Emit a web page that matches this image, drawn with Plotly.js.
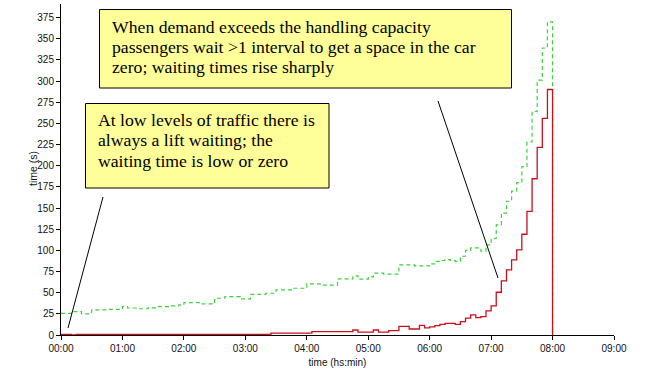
<!DOCTYPE html>
<html>
<head>
<meta charset="utf-8">
<script src="https://cdn.plot.ly/plotly-3.0.1.min.js"></script>
<style>
html,body{margin:0;padding:0;background:#fff;}
#chart{width:662px;height:381px;}
</style>
</head>
<body>
<div id="chart"></div>
<script>
// ---- data (5-minute intervals, start of interval) ----
var times = [
"00:00","00:05","00:10","00:15","00:20","00:25","00:30","00:35","00:40","00:45","00:50","00:55",
"01:00","01:05","01:10","01:15","01:20","01:25","01:30","01:35","01:40","01:45","01:50","01:55",
"02:00","02:05","02:10","02:15","02:20","02:25","02:30","02:35","02:40","02:45","02:50","02:55",
"03:00","03:05","03:10","03:15","03:20","03:25","03:30","03:35","03:40","03:45","03:50","03:55",
"04:00","04:05","04:10","04:15","04:20","04:25","04:30","04:35","04:40","04:45","04:50","04:55",
"05:00","05:05","05:10","05:15","05:20","05:25","05:30","05:35","05:40","05:45","05:50","05:55",
"06:00","06:05","06:10","06:15","06:20","06:25","06:30","06:35","06:40","06:45","06:50","06:55",
"07:00","07:05","07:10","07:15","07:20","07:25","07:30","07:35","07:40","07:45","07:50","07:55",
"08:00"];

var greenWait = [
25.6,25.6,27.5,27.5,25,25,29.6,29.6,29.6,30.2,30.2,30.2,
33.5,31.9,31.9,31,31,32,32,33.5,33.5,34.3,34.3,35.5,
38.2,38.2,38.2,36.7,36.7,36.7,43.4,43.4,45.3,45.3,45.3,42.6,
42.6,48.1,48.1,48.1,49.3,49.3,53.3,53.3,53.3,55.2,55.2,55.2,
60.4,60.4,60.4,59,59,59,66.3,66.3,66.3,69.8,65.9,65.9,
68.6,73,73,72,72,72,82.8,82.8,82.8,81.6,81.6,81.6,
84,87,88,89,88,87,93,100,103,103,99,106.5,
114,130,144,158,170,180,199,228,264,301,339,370,
0];

var redWait = [
0.8,0.8,0,0.8,0.8,0.8,0.8,0.8,0.8,0.8,0.8,0.8,
0.8,0.8,0.8,0.8,0.8,0.8,0.8,0.8,0.8,0.8,0.8,0.8,
0.8,0.8,0.8,0.8,0.8,0.8,0.8,0.8,0.8,0.8,0.8,0.8,
0.8,0.8,0.8,0.8,0.8,2.2,2.2,2.2,2.2,2.2,2.2,2.2,
2.2,3.9,3.9,3.9,3.9,3.9,3.9,3.9,3.9,5.9,3.5,3.5,
3.5,5.9,3.5,3.5,5.1,5.1,10.3,10.3,7.1,7.1,11.4,8.3,
9.5,11,12.5,13.8,13.8,12.5,15.8,20,23.7,20.5,21.7,28.4,
34.3,50.5,64,77,88.8,100.6,119,146,184.6,221.7,256,290,
0];

var tickLabels = ["00:00","01:00","02:00","03:00","04:00","05:00","06:00","07:00","08:00","09:00"];
var yTicks = [0,25,50,75,100,125,150,175,200,225,250,275,300,325,350,375];

var box1Lines = ["When demand exceeds the handling capacity",
                 "passengers wait &gt;1 interval to get a space in the car",
                 "zero; waiting times rise sharply"];
var box2Lines = ["At low levels of traffic there is",
                 "always a lift waiting; the",
                 "waiting time is low or zero"];

function toMin(s){var p=s.split(":");return (+p[0])*60+(+p[1]);}
var xs = times.map(toMin);
var tickVals = tickLabels.map(toMin);

// ---- pixel helpers for decoration placement ----
var W=662,H=381,M={l:61,r:48,t:4,b:46};
var pw=W-M.l-M.r, ph=H-M.t-M.b;
function px(x){return (x-M.l)/pw;}
function py(y){return (H-M.b-y)/ph;}

var traces = [
 {x:xs,y:greenWait,type:'scatter',mode:'lines',line:{shape:'hv',color:'#3fd03f',width:1.2,dash:'4px,3px'},hoverinfo:'skip'},
 {x:xs,y:redWait,type:'scatter',mode:'lines',line:{shape:'hv',color:'#c8101e',width:1.3},hoverinfo:'skip'}
];

var serif='"Liberation Serif","Times New Roman",serif';
var sans='"Liberation Sans",Arial,sans-serif';
var annFont={family:serif,size:17.7,color:'#000'};

var anns=[];
var b1y=[27,47,67], b2y=[119.5,140,160.5];
box1Lines.forEach(function(t,i){anns.push({xref:'paper',yref:'paper',x:px(110),y:py(b1y[i]),xanchor:'left',yanchor:'middle',text:t,showarrow:false,font:annFont});});
box2Lines.forEach(function(t,i){anns.push({xref:'paper',yref:'paper',x:px(96),y:py(b2y[i]),xanchor:'left',yanchor:'middle',text:t,showarrow:false,font:annFont});});
anns.push({xref:'paper',yref:'paper',x:px(33),y:py(169),xanchor:'center',yanchor:'middle',text:'time (s)',textangle:-90,showarrow:false,font:{family:sans,size:10.5,color:'#111'}});

var shapes=[
 {type:'rect',xref:'paper',yref:'paper',x0:px(99.5),x1:px(511.5),y0:py(9.5),y1:py(88),fillcolor:'#ffff99',line:{color:'#000',width:1}},
 {type:'rect',xref:'paper',yref:'paper',x0:px(85.5),x1:px(329),y0:py(103.5),y1:py(188),fillcolor:'#ffff99',line:{color:'#000',width:1}},
 {type:'line',xref:'paper',yref:'paper',x0:px(103),y0:py(197),x1:px(68),y1:py(328),line:{color:'#000',width:1}},
 {type:'line',xref:'paper',yref:'paper',x0:px(438),y0:py(101),x1:px(498),y1:py(278),line:{color:'#000',width:1}}
];

var layout={
 width:W,height:H,margin:M,showlegend:false,
 paper_bgcolor:'#fff',plot_bgcolor:'#fff',
 font:{family:sans,size:10,color:'#111'},
 xaxis:{range:[0,540],tickvals:tickVals,ticktext:tickLabels,showgrid:false,zeroline:false,
        showline:true,linecolor:'#000',linewidth:1,ticks:'outside',ticklen:4,tickcolor:'#000',
        tickfont:{family:sans,size:10,color:'#111'},
        title:{text:'time (hs:min)',font:{family:sans,size:10,color:'#111'},standoff:5},automargin:false},
 yaxis:{range:[0,391],tickvals:yTicks,showgrid:false,zeroline:false,
        showline:true,linecolor:'#000',linewidth:1,ticks:'outside',ticklen:4,tickcolor:'#000',
        tickfont:{family:sans,size:10,color:'#111'},automargin:false},
 annotations:anns,shapes:shapes
};
Plotly.newPlot('chart',traces,layout,{displayModeBar:false,staticPlot:true});
</script>
</body>
</html>
